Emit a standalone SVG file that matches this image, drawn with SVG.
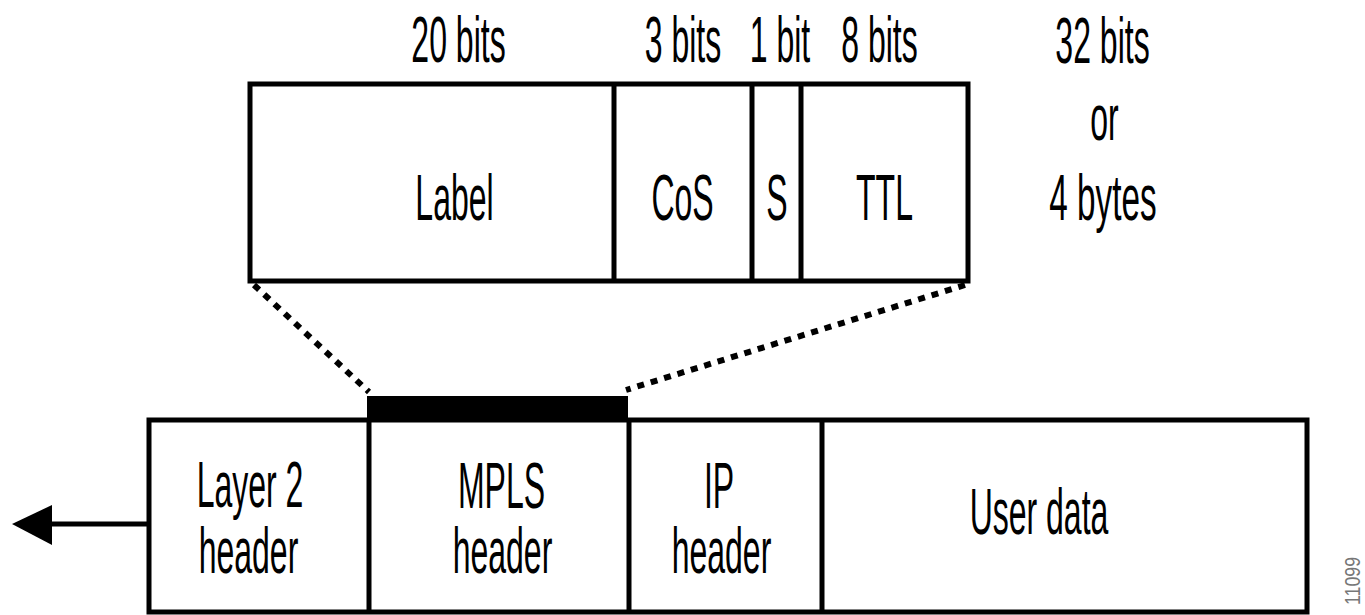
<svg xmlns="http://www.w3.org/2000/svg" width="1365" height="615" viewBox="0 0 1365 615">
  <style>
    .t { font-family: "Liberation Sans", Arial, sans-serif; font-size: 64px; fill: #000; text-anchor: middle; }
    .box { fill: #fff; stroke: #000; stroke-width: 5; }
    .div { stroke: #000; stroke-width: 5; }
    .dot { fill: none; stroke: #000; stroke-width: 6; stroke-dasharray: 7 7; }
    .fig { font-family: "Liberation Sans", Arial, sans-serif; font-size: 22px; fill: #777; }
  </style>
  <defs>
    <marker id="arrowhead" markerUnits="userSpaceOnUse" markerWidth="42" markerHeight="42" refX="0" refY="21" orient="auto">
      <polygon points="0,0 40,21 0,40" fill="#000"/>
    </marker>
  </defs>
  <rect width="1365" height="615" fill="#fff"/>

  <!-- Field widths above the label stack entry (condensed type) -->
  <g id="bit-widths">
    <text class="t" transform="translate(458.5,62) scale(0.5,1)">20 bits</text>
    <text class="t" transform="translate(683,62) scale(0.5,1)">3 bits</text>
    <text class="t" transform="translate(780,62) scale(0.5,1)">1 bit</text>
    <text class="t" transform="translate(879.5,62) scale(0.5,1)">8 bits</text>
  </g>
  <g id="entry-size">
    <text class="t" transform="translate(1102.5,63) scale(0.5,1)">32 bits</text>
    <text class="t" transform="translate(1104.5,140) scale(0.5,1)">or</text>
    <text class="t" transform="translate(1103,220) scale(0.52,1)">4 bytes</text>
  </g>

  <!-- MPLS label stack entry -->
  <g id="label-entry">
    <rect class="box" x="250" y="84" width="718" height="197"/>
    <line class="div" x1="614" y1="84" x2="614" y2="281"/>
    <line class="div" x1="752" y1="84" x2="752" y2="281"/>
    <line class="div" x1="801" y1="84" x2="801" y2="281"/>
    <text class="t" transform="translate(454.5,220) scale(0.5,1)">Label</text>
    <text class="t" transform="translate(682.5,220) scale(0.5,1)">CoS</text>
    <text class="t" transform="translate(777,220) scale(0.5,1)">S</text>
    <text class="t" transform="translate(884.5,220) scale(0.5,1)">TTL</text>
  </g>

  <!-- Frame layout -->
  <g id="frame">
    <rect class="box" x="149" y="420" width="1158" height="192" stroke-width="6"/>
    <line class="div" x1="369" y1="420" x2="369" y2="612"/>
    <line class="div" x1="629" y1="420" x2="629" y2="612"/>
    <line class="div" x1="822" y1="420" x2="822" y2="612"/>
  </g>
  <g id="layer2-header">
    <text class="t" transform="translate(250,507) scale(0.5,1)">Layer 2</text>
    <text class="t" transform="translate(248.5,573) scale(0.5,1)">header</text>
  </g>
  <g id="mpls-header">
    <rect x="367" y="396" width="261" height="24" fill="#000"/>
    <text class="t" transform="translate(501.5,508) scale(0.5,1)">MPLS</text>
    <text class="t" transform="translate(502.5,573) scale(0.5,1)">header</text>
  </g>
  <g id="ip-header">
    <text class="t" transform="translate(719,508) scale(0.5,1)">IP</text>
    <text class="t" transform="translate(721.5,573) scale(0.5,1)">header</text>
  </g>
  <g id="user-data">
    <text class="t" transform="translate(1039,534) scale(0.5,1)">User data</text>
  </g>

  <!-- Connectors: zoom lines and direction of transmission -->
  <g id="connectors">
    <line class="dot" x1="254" y1="285" x2="369" y2="392"/>
    <line class="dot" x1="965" y1="285" x2="626" y2="390"/>
    <line x1="149" y1="524" x2="52" y2="524" stroke="#000" stroke-width="5" marker-end="url(#arrowhead)"/>
  </g>

  <text class="fig" transform="translate(1360,605) rotate(-90)" textLength="48" lengthAdjust="spacingAndGlyphs">11099</text>
</svg>
